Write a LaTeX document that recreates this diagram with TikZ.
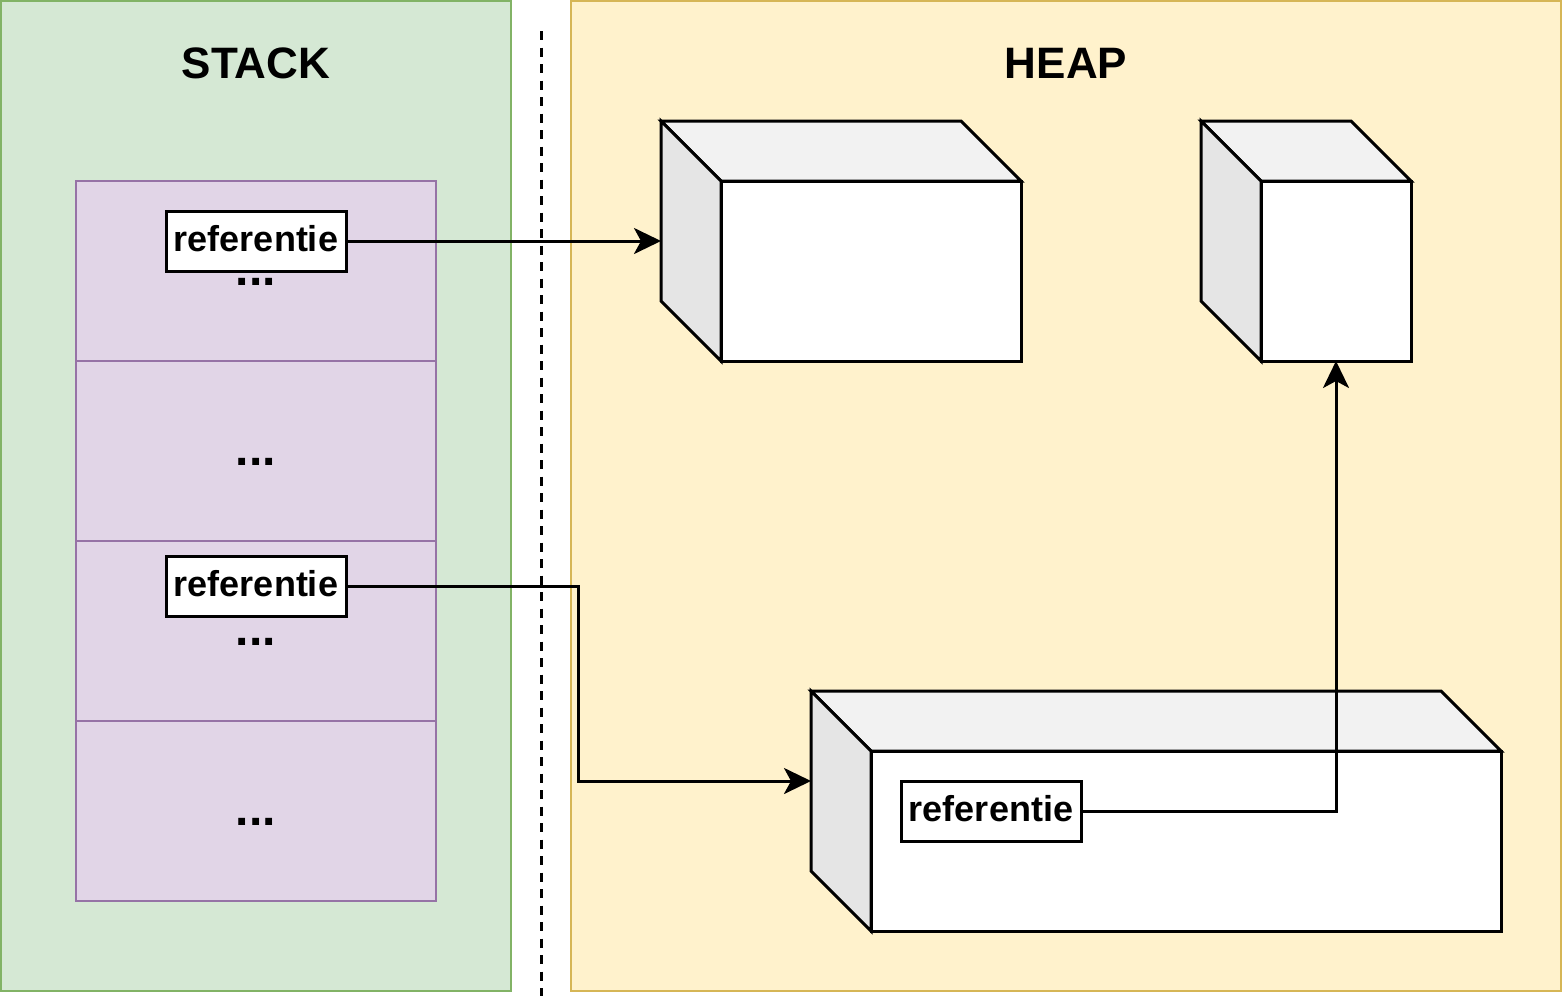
\documentclass[tikz,border=0pt]{standalone}
\usepackage{fontspec}
\setmainfont{Liberation Sans}
\usetikzlibrary{positioning, calc, arrows.meta}
\definecolor{stackfill}{HTML}{D5E8D4}
\definecolor{stackline}{HTML}{82B366}
\definecolor{heapfill}{HTML}{FFF2CC}
\definecolor{heapline}{HTML}{D6B656}
\definecolor{cellfill}{HTML}{E1D5E7}
\definecolor{cellline}{HTML}{9673A6}
\begin{document}
\begin{tikzpicture}[x=1pt, y=-1pt,
		cell/.style={shape=rectangle, draw=cellline, fill=cellfill, line width=2.5pt, inner sep=0pt, outer sep=0pt, minimum width=360pt, minimum height=180pt},
		dots/.style={anchor=base, inner sep=0pt, font=\bfseries\fontsize{48}{52}\selectfont},
		title/.style={anchor=base, inner sep=0pt, font=\bfseries\fontsize{44}{48}\selectfont},
		ref/.style={shape=rectangle, draw, fill=white, line width=3pt, inner sep=0pt, outer sep=0pt, minimum width=180pt, minimum height=60pt, text height=26pt, text depth=6pt, font=\bfseries\fontsize{36}{40}\selectfont},
		front/.style={shape=rectangle, draw, fill=white, line width=3pt, inner sep=0pt, outer sep=0pt, minimum height=180pt},
		topface/.style={draw, fill=black!5, line width=3pt},
		sideface/.style={draw, fill=black!10, line width=3pt},
		arr/.style={line width=3pt, -{Stealth[length=27pt, width=26pt, inset=7pt]}}]
		\useasboundingbox (0,0) rectangle (1563,996);
		\draw[line width=2.5pt, draw=stackline, fill=stackfill] (1,1) rectangle (511,991);
		\draw[line width=2.5pt, draw=heapline, fill=heapfill] (571,1) rectangle (1561,991);
		\coordinate (T) at (541,31);
		\coordinate (B) at (541,996);
		\draw[line width=3pt, dash pattern=on 9pt off 7.5pt] (T) -- (B);
		\node[title] (ST) at (256,78) {STACK};
		\node[title] (HP) at (1066,78) {HEAP};
		
		\node[cell] (S1) at (256,271) {};
		\node[cell] (S2) at (256,451) {};
		\node[cell] (S3) at (256,631) {};
		\node[cell] (S4) at (256,811) {};
		\node[dots] (D1) at (256,285) {...};
		\node[dots] (D2) at (256,465) {...};
		\node[dots] (D3) at (256,645) {...};
		\node[dots] (D4) at (256,825) {...};
		\node[ref] (R1) at (256,241) {referentie};
		\node[ref] (R2) at (256,586) {referentie};
		
		\node[front, minimum width=300pt] (C1) at (871,271) {};
		\filldraw[topface] ($(C1.north west)+(-60,-60)$) -- ($(C1.north east)+(-60,-60)$) -- (C1.north east) -- (C1.north west) -- cycle;
		\filldraw[sideface] ($(C1.north west)+(-60,-60)$) -- (C1.north west) -- (C1.south west) -- ($(C1.south west)+(-60,-60)$) -- cycle;
		
		\node[front, minimum width=150pt] (C2) at (1336,271) {};
		\filldraw[topface] ($(C2.north west)+(-60,-60)$) -- ($(C2.north east)+(-60,-60)$) -- (C2.north east) -- (C2.north west) -- cycle;
		\filldraw[sideface] ($(C2.north west)+(-60,-60)$) -- (C2.north west) -- (C2.south west) -- ($(C2.south west)+(-60,-60)$) -- cycle;
		
		\node[front, minimum width=630pt] (C3) at (1186,841) {};
		\filldraw[topface] ($(C3.north west)+(-60,-60)$) -- ($(C3.north east)+(-60,-60)$) -- (C3.north east) -- (C3.north west) -- cycle;
		\filldraw[sideface] ($(C3.north west)+(-60,-60)$) -- (C3.north west) -- (C3.south west) -- ($(C3.south west)+(-60,-60)$) -- cycle;
		\node[ref] (R3) at (991,811) {referentie};
		
		\coordinate (E1) at ($(C1.north west)+(-60,60)$);
		\coordinate (E3) at ($(C3.north west)+(-60,30)$);
		\draw[arr] (R1.east) -- (E1);
		\draw[arr] (R2.east) -- ++(232,0) |- (E3);
		\draw[arr] (R3.east) -| (C2.south);
	\end{tikzpicture}
\end{document}
